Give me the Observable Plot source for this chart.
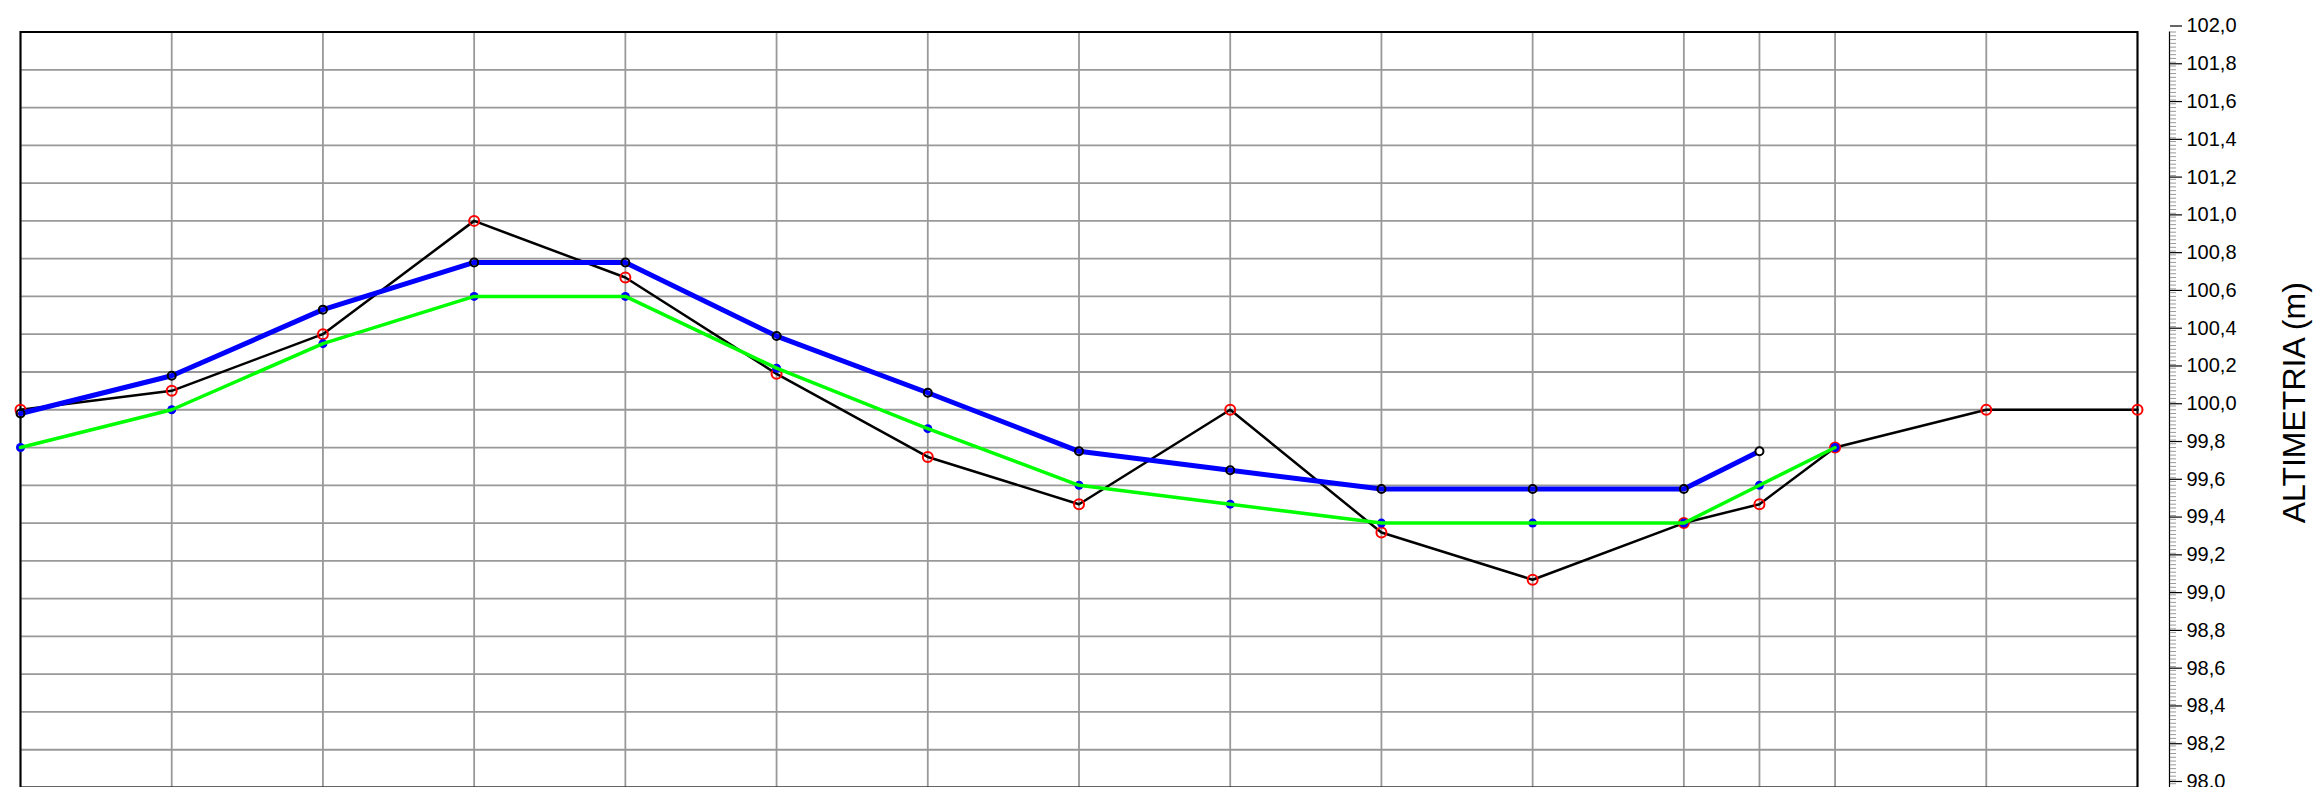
<!DOCTYPE html>
<html>
<head>
<meta charset="utf-8">
<script src="https://cdn.jsdelivr.net/npm/d3@7"></script>
<script src="https://cdn.jsdelivr.net/npm/@observablehq/plot@0.6"></script>
<style>
  html, body { margin: 0; padding: 0; background: #fff; }
  #chart { width: 2316px; height: 787px; overflow: hidden; }
</style>
</head>
<body>
<div id="chart"></div>
<script>
// Stations (m) along the profile
const estacas = [0, 20, 40, 60, 80, 100, 120, 140, 160, 180, 200, 220, 230, 240, 260, 280];
// Terrain (black line, red open markers)
const terreno = [100.00, 100.10, 100.40, 101.00, 100.70, 100.19, 99.75, 99.50, 100.00, 99.35, 99.10, 99.40, 99.50, 99.80, 100.00, 100.00];
// Blue line (black markers), stations 0..230
const estacasAzul = [0, 20, 40, 60, 80, 100, 120, 140, 160, 180, 200, 220, 230];
const linhaAzul = [99.98, 100.18, 100.53, 100.78, 100.78, 100.39, 100.09, 99.78, 99.68, 99.58, 99.58, 99.58, 99.78];
// Green line (blue markers), stations 0..240
const estacasVerde = [0, 20, 40, 60, 80, 100, 120, 140, 160, 180, 200, 220, 230, 240];
const linhaVerde = [99.80, 100.00, 100.35, 100.60, 100.60, 100.22, 99.90, 99.60, 99.50, 99.40, 99.40, 99.40, 99.60, 99.80];
// Y axis ticks
const yMajor = d3.range(98, 102.0001, 0.2).map(v => +v.toFixed(2));
const yMinor = d3.range(98, 102.0001, 0.02).map(v => +v.toFixed(2));
const yLabel = "ALTIMETRIA (m)";

const terr = estacas.map((x, i) => ({x, y: terreno[i]}));
const azul = estacasAzul.map((x, i) => ({x, y: linhaAzul[i]}));
const verde = estacasVerde.map((x, i) => ({x, y: linhaVerde[i]}));

const fmt = d => d.toFixed(1).replace(".", ",");

const chart = Plot.plot({
  width: 2316,
  height: 787,
  marginLeft: 20,
  marginTop: 31.5,
  marginRight: 179,
  marginBottom: 0,
  style: {fontFamily: "'Liberation Sans', Arial, sans-serif", fontSize: "20px", background: "#fff", overflow: "visible"},
  x: {domain: [0, 280], axis: null},
  y: {domain: [98, 102], axis: null, label: null},
  marks: [
    Plot.gridX(estacas, {stroke: "#999", strokeOpacity: 1, strokeWidth: 1.8}),
    Plot.gridY(yMajor, {stroke: "#999", strokeOpacity: 1, strokeWidth: 1.8}),
    Plot.frame({stroke: "#000", strokeWidth: 2}),
    // right-hand axis
    Plot.ruleX([280], {y1: 98, y2: 102, dx: 32, stroke: "#000", strokeWidth: 1.2}),
    Plot.axisY(yMinor, {anchor: "right", dx: 32, tickSize: 6, text: null, label: null, stroke: "#999", strokeWidth: 1}),
    Plot.axisY(yMajor, {anchor: "right", dx: 32, tickSize: 12, tickPadding: 5, tickFormat: fmt, label: null, stroke: "#000", strokeWidth: 1.2, fill: "#000", fontSize: 20, dy: -6}),
    Plot.text([yLabel], {frameAnchor: "right", dx: 157, dy: -7, rotate: -90, fontSize: 32, fill: "#000", textAnchor: "middle"}),
    // terrain
    Plot.line(terr, {x: "x", y: "y", stroke: "#000", strokeWidth: 2.5}),
    Plot.dot(terr, {x: "x", y: "y", r: 5, stroke: "#ff0000", strokeWidth: 2, fill: "none"}),
    // green line with blue markers
    Plot.dot(verde, {x: "x", y: "y", r: 4.5, fill: "#0000ff", stroke: "none"}),
    Plot.line(verde, {x: "x", y: "y", stroke: "#00ff00", strokeWidth: 3.5}),
    // blue line with black markers
    Plot.line(azul, {x: "x", y: "y", stroke: "#0000ff", strokeWidth: 5}),
    Plot.dot(azul, {x: "x", y: "y", r: 4, stroke: "#000", strokeWidth: 2, fill: (d, i) => i === azul.length - 1 ? "#fff" : "none"})
  ]
});
document.getElementById("chart").appendChild(chart);
</script>
</body>
</html>
